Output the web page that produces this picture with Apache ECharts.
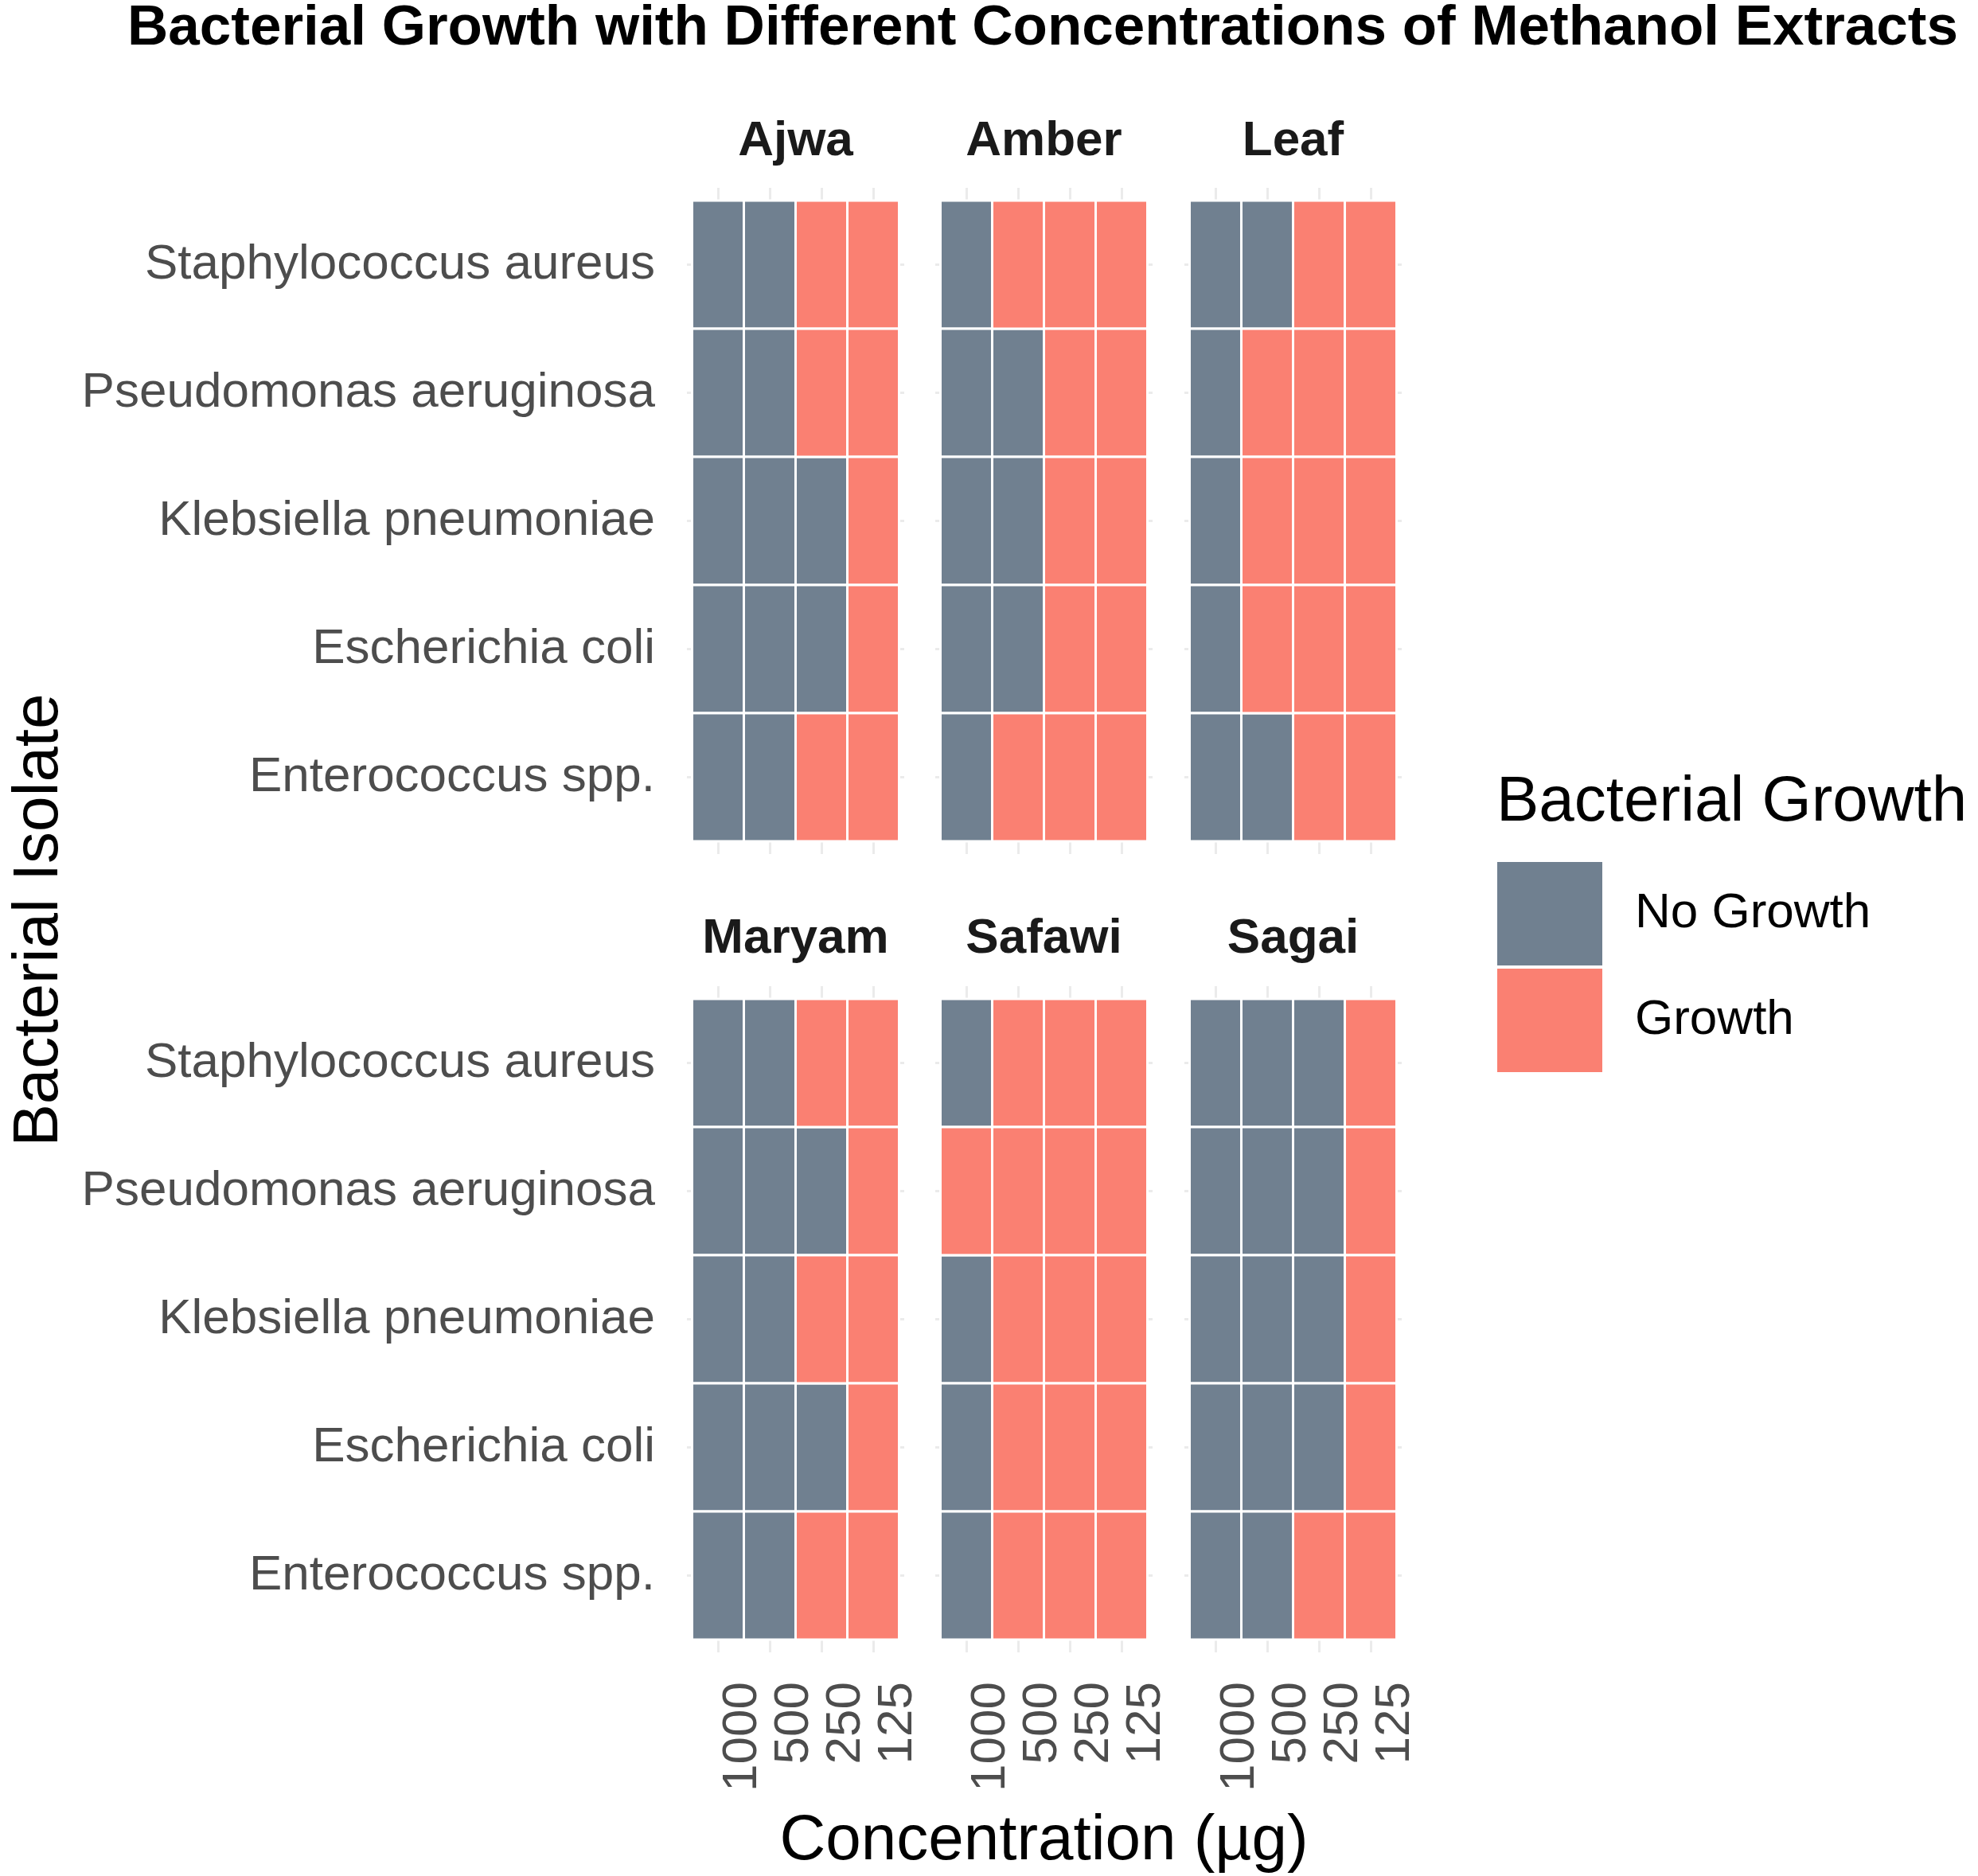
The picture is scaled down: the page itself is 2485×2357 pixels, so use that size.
<!DOCTYPE html>
<html>
<head>
<meta charset="utf-8">
<title>Bacterial Growth with Different Concentrations of Methanol Extracts</title>
<script src="https://cdn.jsdelivr.net/npm/echarts@6/dist/echarts.min.js"></script>
<style>
  html, body { margin: 0; padding: 0; background: #fff; }
  #chart { width: 2485px; height: 2357px; }
</style>
</head>
<body>
<div id="chart"></div>
<script>
// categories
const extracts = ['Ajwa', 'Amber', 'Leaf', 'Maryam', 'Safawi', 'Sagai'];
const isolates = ['Staphylococcus aureus', 'Pseudomonas aeruginosa', 'Klebsiella pneumoniae', 'Escherichia coli', 'Enterococcus spp.'];
const concentrations = ['1000', '500', '250', '125'];
const growthLabels = ['No Growth', 'Growth'];

// 0 = no growth, 1 = growth; rows follow isolates, columns follow concentrations
const ajwa = [[0, 0, 1, 1], [0, 0, 1, 1], [0, 0, 0, 1], [0, 0, 0, 1], [0, 0, 1, 1]];
const amber = [[0, 1, 1, 1], [0, 0, 1, 1], [0, 0, 1, 1], [0, 0, 1, 1], [0, 1, 1, 1]];
const leaf = [[0, 0, 1, 1], [0, 1, 1, 1], [0, 1, 1, 1], [0, 1, 1, 1], [0, 0, 1, 1]];
const maryam = [[0, 0, 1, 1], [0, 0, 0, 1], [0, 0, 1, 1], [0, 0, 0, 1], [0, 0, 1, 1]];
const safawi = [[0, 1, 1, 1], [1, 1, 1, 1], [0, 1, 1, 1], [0, 1, 1, 1], [0, 1, 1, 1]];
const sagai = [[0, 0, 0, 1], [0, 0, 0, 1], [0, 0, 0, 1], [0, 0, 0, 1], [0, 0, 1, 1]];
const panels = [ajwa, amber, leaf, maryam, safawi, sagai];

const colors = ['#708090', '#FA8072'];
const FONT = '"Liberation Sans", Arial, sans-serif';

const chart = echarts.init(document.getElementById('chart'));

// facet layout
const panelLefts = [863, 1175, 1488];
const panelTops = [236, 1239];
const panelW = 273;
const panelH = 837;

const grids = [], xAxes = [], yAxes = [], series = [], graphics = [];

panels.forEach((matrix, p) => {
  const col = p % 3;
  const row = Math.floor(p / 3);
  grids.push({ left: panelLefts[col], top: panelTops[row], width: panelW, height: panelH });

  xAxes.push({
    type: 'value', gridIndex: p, min: 0.4, max: 4.6,
    axisLine: { show: false },
    axisTick: { show: false, customValues: [1, 2, 3, 4] },
    splitLine: { show: true, lineStyle: { color: '#EBEBEB', width: 3 } },
    axisLabel: {
      show: row === 1,
      customValues: [1, 2, 3, 4],
      formatter: v => concentrations[Math.round(v) - 1],
      rotate: 90, margin: 37, verticalAlign: 'top',
      fontFamily: FONT, fontSize: 62, color: '#4D4D4D'
    },
    name: p === 4 ? 'Concentration (µg)' : '',
    nameLocation: 'middle', nameGap: 198,
    nameTextStyle: { fontFamily: FONT, fontSize: 80, color: '#000' }
  });

  yAxes.push({
    type: 'value', gridIndex: p, min: 0.4, max: 5.6, inverse: true,
    axisLine: { show: false },
    axisTick: { show: false, customValues: [1, 2, 3, 4, 5] },
    splitLine: { show: true, lineStyle: { color: '#EBEBEB', width: 3 } },
    axisLabel: {
      show: col === 0,
      customValues: [1, 2, 3, 4, 5],
      formatter: v => isolates[Math.round(v) - 1],
      margin: 40, padding: [10, 0, 0, 0],
      fontFamily: FONT, fontSize: 62, color: '#4D4D4D'
    }
  });

  // one series per growth status so the legend can use them
  growthLabels.forEach((label, s) => {
    const cells = [];
    matrix.forEach((r, i) => r.forEach((v, j) => { if (v === s) cells.push([j + 1, i + 1]); }));
    series.push({
      type: 'custom', name: label, xAxisIndex: p, yAxisIndex: p,
      itemStyle: { color: colors[s] },
      data: cells,
      renderItem: (params, api) => {
        const x = api.value(0), y = api.value(1);
        const a = api.coord([x - 0.5, y - 0.5]);
        const b = api.coord([x + 0.5, y + 0.5]);
        return {
          type: 'rect',
          shape: { x: Math.min(a[0], b[0]), y: Math.min(a[1], b[1]), width: Math.abs(b[0] - a[0]), height: Math.abs(b[1] - a[1]) },
          style: { fill: colors[s], stroke: '#fff', lineWidth: 3 }
        };
      }
    });
  });

  // facet strip label
  graphics.push({
    type: 'text', x: panelLefts[col] + panelW / 2, y: row === 0 ? 178 : 1180,
    style: { text: extracts[p], font: 'bold 62px ' + FONT, fill: '#1A1A1A', align: 'center', verticalAlign: 'middle', textAlign: 'center', textVerticalAlign: 'middle' }
  });
});

// plot title, y title, legend title
graphics.push({
  type: 'text', x: 1310, y: 36,
  style: { text: 'Bacterial Growth with Different Concentrations of Methanol Extracts', font: 'bold 71px ' + FONT, fill: '#000', align: 'center', verticalAlign: 'middle', textAlign: 'center', textVerticalAlign: 'middle' }
});
graphics.push({
  type: 'text', x: 50, y: 1156, rotation: Math.PI / 2,
  style: { text: 'Bacterial Isolate', font: '80px ' + FONT, fill: '#000', align: 'center', verticalAlign: 'middle', textAlign: 'center', textVerticalAlign: 'middle' }
});
graphics.push({
  type: 'text', x: 1880, y: 1009,
  style: { text: 'Bacterial Growth', font: '80px ' + FONT, fill: '#000', align: 'left', verticalAlign: 'middle', textAlign: 'left', textVerticalAlign: 'middle' }
});

chart.setOption({
  animation: false,
  backgroundColor: '#fff',
  grid: grids,
  xAxis: xAxes,
  yAxis: yAxes,
  legend: {
    data: growthLabels,
    orient: 'vertical', left: 1881, top: 1083, padding: 0,
    icon: 'rect', itemWidth: 132, itemHeight: 130, itemGap: 4,
    selectedMode: false,
    textStyle: { fontFamily: FONT, fontSize: 62, color: '#000', padding: [12, 0, 0, 36] }
  },
  graphic: graphics,
  series: series
});
</script>
</body>
</html>
